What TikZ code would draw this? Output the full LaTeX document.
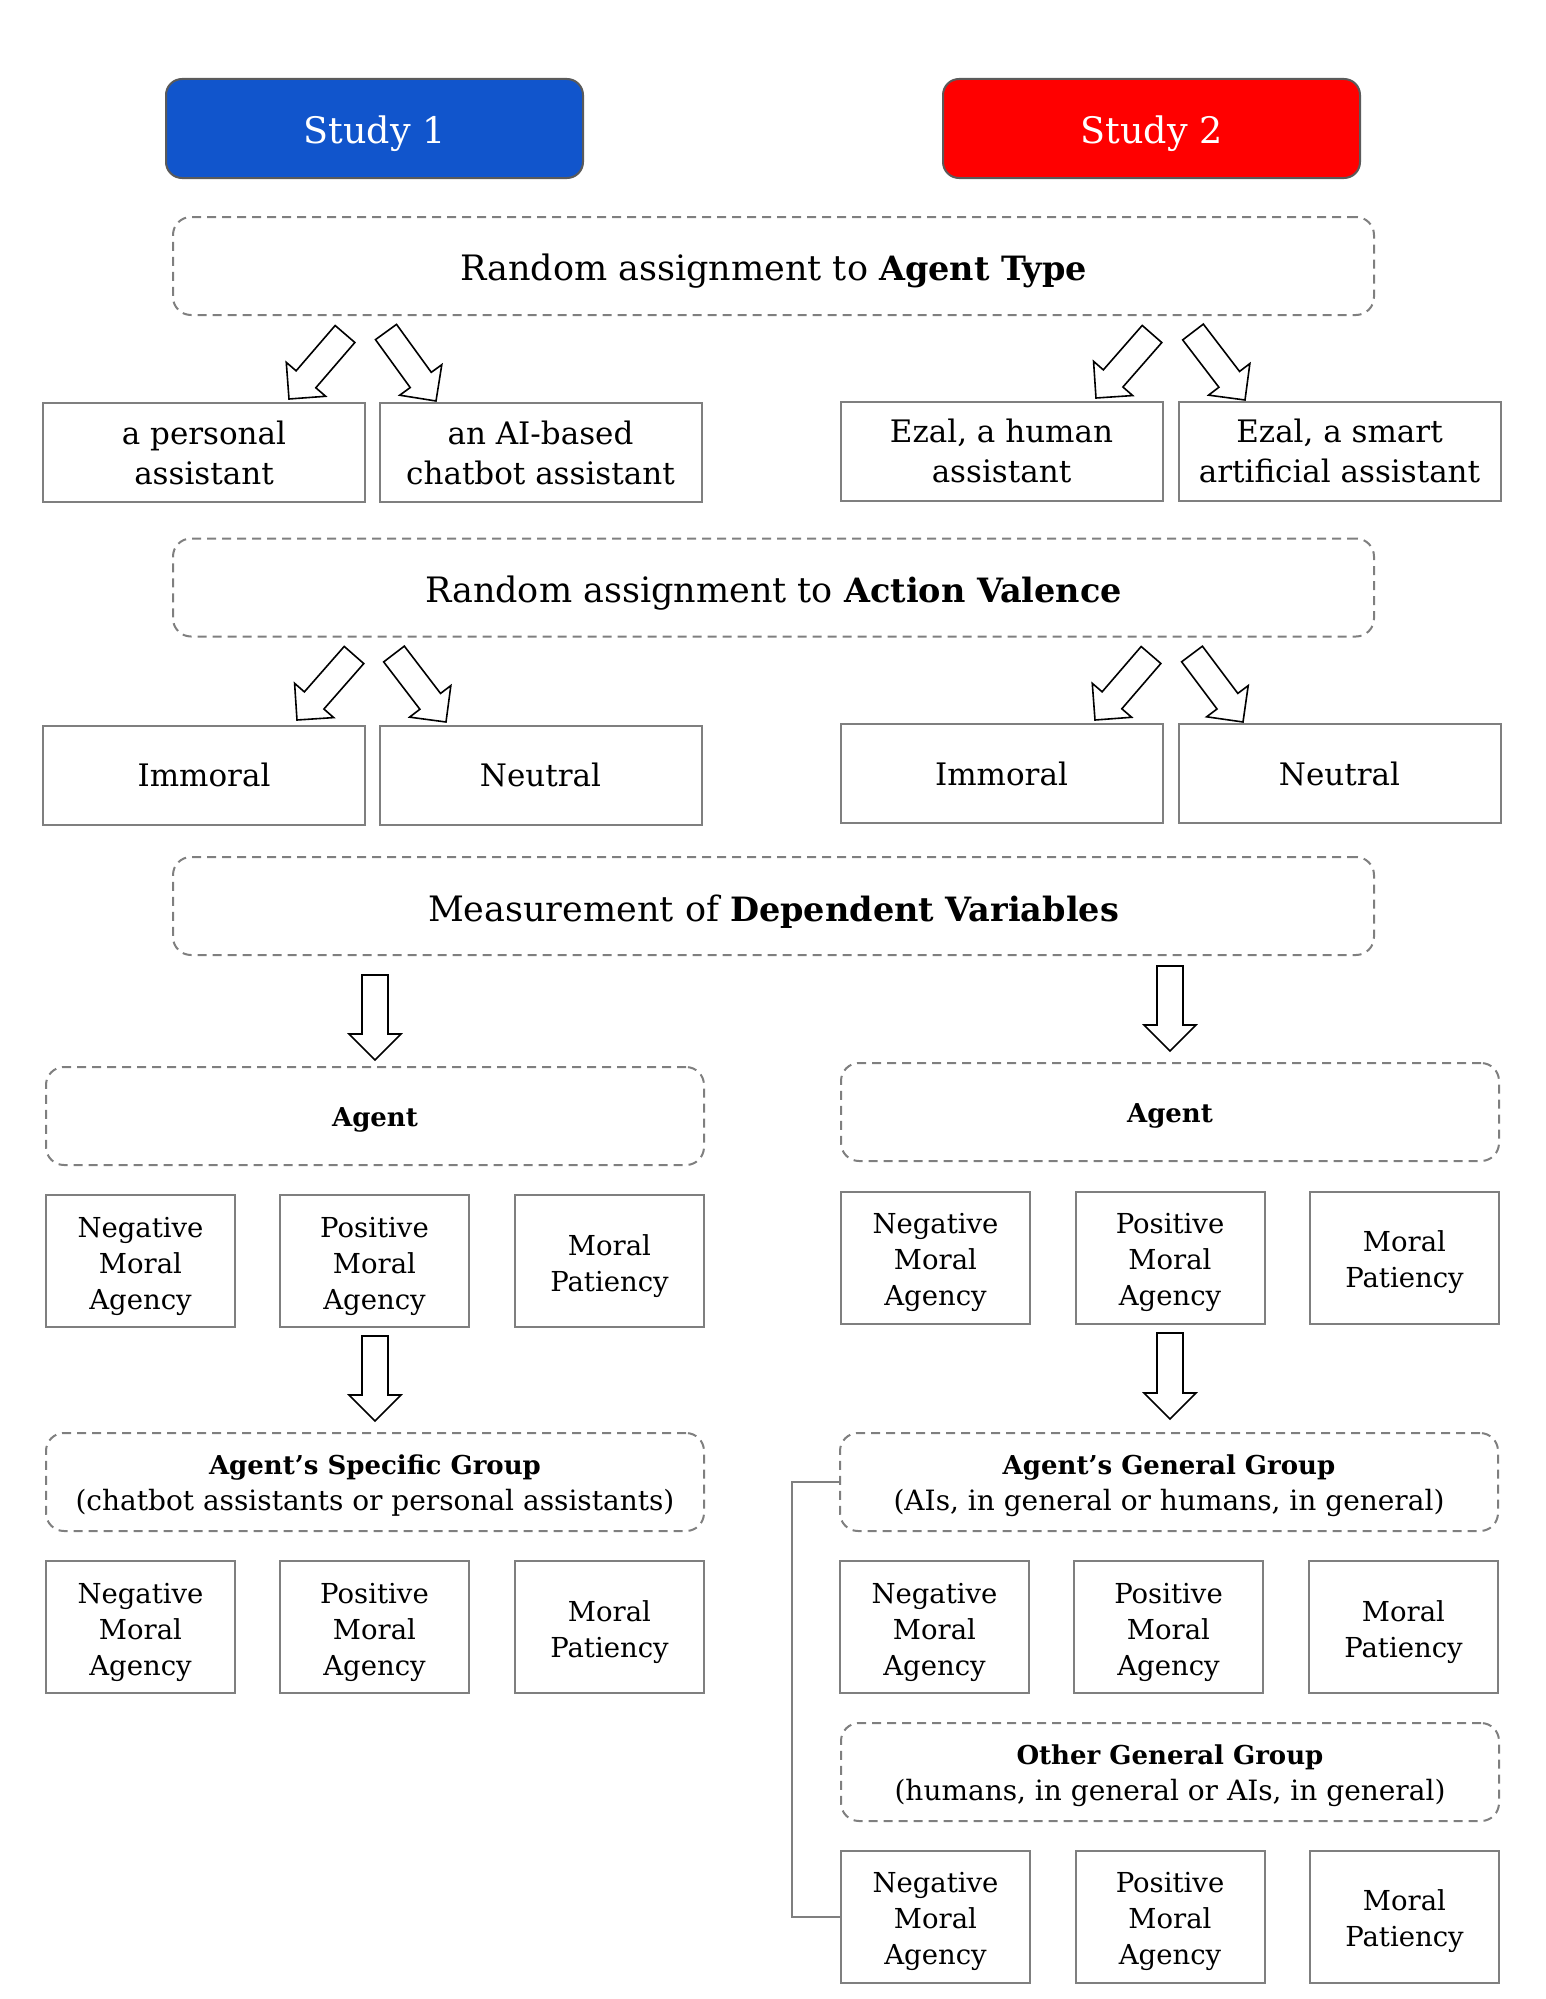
\documentclass[tikz,border=0pt]{standalone}
\usepackage{fontspec}
\setmainfont{DejaVu Serif}
\usetikzlibrary{calc}
\definecolor{studyblue}{HTML}{1155CC}
\definecolor{studyred}{HTML}{FF0000}
\definecolor{boxgray}{HTML}{7F7F7F}
\definecolor{studyedge}{HTML}{5A5A5A}
\newcommand\fszTitle{\fontsize{35}{40}\selectfont}
\newcommand\fszTitleB{\fontsize{33.5}{40}\selectfont\bfseries}
\newcommand\fszStudy{\fontsize{36.5}{40}\selectfont}
\newcommand\fszCond{\fontsize{31}{40}\selectfont}
\newcommand\fszMeas{\fontsize{27.5}{36}\selectfont}
\newcommand\fszGroup{\fontsize{28}{36}\selectfont}
\newcommand\fszGroupB{\fontsize{26}{36}\selectfont\bfseries}
\newcommand\tstrut[1]{\rule{0pt}{#1}}
\newcommand\mstrut{\rule{0pt}{31pt}}
\newcommand\gstrut{\rule{0pt}{27pt}}
\newcommand\blockarrow[2]{%
  \coordinate (tmpH) at ($(#2)!26pt!(#1)$);
  \draw[blockarrowstyle]
    ($(#1)!13pt!90:(#2)$) --
    ($(tmpH)!13pt!90:(#2)$) --
    ($(tmpH)!26pt!90:(#2)$) --
    (#2) --
    ($(tmpH)!26pt!-90:(#2)$) --
    ($(tmpH)!13pt!-90:(#2)$) --
    ($(#1)!13pt!-90:(#2)$) -- cycle;}
\begin{document}
\begin{tikzpicture}[x=1pt,y=-1pt,
  studybox/.style={draw=studyedge, line width=2pt, rounded corners=16pt,
    minimum width=417pt, minimum height=99pt, inner sep=0pt, text=white, font=\fszStudy},
  dashbox/.style={draw=boxgray, line width=2pt, dash pattern=on 9pt off 6pt,
    rounded corners=18pt, minimum width=1201pt, minimum height=98pt, inner sep=0pt,
    align=center, font=\fszTitle},
  groupbox/.style={draw=boxgray, line width=2pt, dash pattern=on 9pt off 6pt,
    rounded corners=18pt, minimum width=658pt, minimum height=98pt, inner sep=0pt,
    align=center, font=\fszGroup},
  condbox/.style={draw=boxgray, line width=2pt, minimum width=322pt,
    minimum height=99pt, inner sep=0pt, align=center, font=\fszCond},
  measbox/.style={draw=boxgray, line width=2pt, minimum width=189pt,
    minimum height=132pt, inner sep=0pt, align=center, font=\fszMeas},
  blockarrowstyle/.style={draw=black, fill=white, line width=1.6pt, line join=miter},
  bracketline/.style={draw=boxgray, line width=2pt}]
\useasboundingbox (0,0) rectangle (1546,1999);

% Study headers
\node[studybox, fill=studyblue] (s1) at (374.5,128.5) {\tstrut{38pt}Study 1};
\node[studybox, fill=studyred]  (s2) at (1151.5,128.5) {\tstrut{38pt}Study 2};

% Agent type
\node[dashbox] (dAT) at (773.5,266) {\tstrut{37pt}Random assignment to {\fszTitleB Agent Type}};
\node[condbox] (r1a) at (204,452.5) {a personal\\assistant};
\node[condbox] (r1b) at (540.5,452.5) {an AI-based\\chatbot assistant};
\node[condbox] (r1c) at (1001.5,451) {Ezal, a human\\assistant};
\node[condbox] (r1d) at (1339.5,451) {Ezal, a smart\\artificial assistant};

% Action valence
\node[dashbox] (dAV) at (773.5,587.5) {\tstrut{37pt}Random assignment to {\fszTitleB Action Valence}};
\node[condbox] (r2a) at (204,775) {Immoral};
\node[condbox] (r2b) at (540.5,775) {Neutral};
\node[condbox] (r2c) at (1001.5,773.5) {Immoral};
\node[condbox] (r2d) at (1339.5,773.5) {Neutral};

% Measurement
\node[dashbox] (dMDV) at (773.5,906) {\tstrut{37pt}Measurement of {\fszTitleB Dependent Variables}};

% Agent
\node[groupbox] (agL) at (375,1116) {\tstrut{27pt}{\fszGroupB Agent}};
\node[groupbox] (agR) at (1170,1112) {\tstrut{27pt}{\fszGroupB Agent}};
\node[measbox] (aL1) at (140.5,1261) {\mstrut Negative\\Moral\\Agency};
\node[measbox] (aL2) at (374.5,1261) {\mstrut Positive\\Moral\\Agency};
\node[measbox] (aL3) at (609.5,1261) {\mstrut Moral\\Patiency};
\node[measbox] (aR1) at (935.5,1257.5) {\mstrut Negative\\Moral\\Agency};
\node[measbox] (aR2) at (1170,1257.5) {\mstrut Positive\\Moral\\Agency};
\node[measbox] (aR3) at (1404.5,1257.5) {\mstrut Moral\\Patiency};

% Groups
\node[groupbox] (grpL) at (375,1482) {\gstrut{\fszGroupB Agent’s Specific Group}\\(chatbot assistants or personal assistants)};
\node[groupbox] (grpR) at (1169,1482) {\gstrut{\fszGroupB Agent’s General Group}\\(AIs, in general or humans, in general)};
\node[measbox] (gL1) at (140.5,1627) {\mstrut Negative\\Moral\\Agency};
\node[measbox] (gL2) at (374.5,1627) {\mstrut Positive\\Moral\\Agency};
\node[measbox] (gL3) at (609.5,1627) {\mstrut Moral\\Patiency};
\node[measbox] (gR1) at (934.5,1627) {\mstrut Negative\\Moral\\Agency};
\node[measbox] (gR2) at (1168.5,1627) {\mstrut Positive\\Moral\\Agency};
\node[measbox] (gR3) at (1403.5,1627) {\mstrut Moral\\Patiency};

\node[groupbox] (othR) at (1170,1772) {\gstrut{\fszGroupB Other General Group}\\(humans, in general or AIs, in general)};
\node[measbox] (oR1) at (935.5,1916.5) {\mstrut Negative\\Moral\\Agency};
\node[measbox] (oR2) at (1170,1916.5) {\mstrut Positive\\Moral\\Agency};
\node[measbox] (oR3) at (1404.5,1916.5) {\mstrut Moral\\Patiency};

% bracket
\draw[bracketline] (grpR.west) -- ++(-47,0) |- (oR1.west);

% arrow end points
\coordinate (t1a) at (345,334);  \coordinate (h1a) at (289,399);
\coordinate (t1b) at (386,332);  \coordinate (h1b) at (436,401);
\coordinate (t1c) at (1152,334); \coordinate (h1c) at (1096,398);
\coordinate (t1d) at (1193,332); \coordinate (h1d) at (1245,400);
\coordinate (t2a) at (354,655);  \coordinate (h2a) at (297,720);
\coordinate (t2b) at (394,654);  \coordinate (h2b) at (446,722);
\coordinate (t2c) at (1151,655); \coordinate (h2c) at (1095,720);
\coordinate (t2d) at (1192,654); \coordinate (h2d) at (1243,722);
\coordinate (t3a) at (375,975);  \coordinate (h3a) at (375,1060);
\coordinate (t3b) at (1170,966); \coordinate (h3b) at (1170,1051);
\coordinate (t4a) at (375,1336); \coordinate (h4a) at (375,1421);
\coordinate (t4b) at (1170,1333); \coordinate (h4b) at (1170,1419);

\blockarrow{t1a}{h1a}
\blockarrow{t1b}{h1b}
\blockarrow{t1c}{h1c}
\blockarrow{t1d}{h1d}
\blockarrow{t2a}{h2a}
\blockarrow{t2b}{h2b}
\blockarrow{t2c}{h2c}
\blockarrow{t2d}{h2d}
\blockarrow{t3a}{h3a}
\blockarrow{t3b}{h3b}
\blockarrow{t4a}{h4a}
\blockarrow{t4b}{h4b}
\end{tikzpicture}
\end{document}
